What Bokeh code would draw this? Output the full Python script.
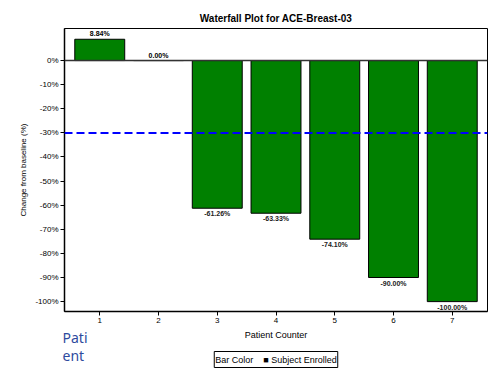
from bokeh.plotting import figure
from bokeh.models import (ColumnDataSource, Range1d, Span, Title,
                          FixedTicker, CustomJSTickFormatter)
from bokeh.embed import file_html
from bokeh.resources import INLINE
from bokeh.core.properties import value

# ---- data ----
patients = [1, 2, 3, 4, 5, 6, 7]
change = [8.84, 0.00, -61.26, -63.33, -74.10, -90.00, -100.00]
value_labels = ["8.84%", "0.00%", "-61.26%", "-63.33%", "-74.10%", "-90.00%", "-100.00%"]
y_ticks = [0, -10, -20, -30, -40, -50, -60, -70, -80, -90, -100]
threshold = -30
title_text = "Waterfall Plot for ACE-Breast-03"
legend_title = "Bar Color"
legend_label = "Subject Enrolled"
stray_text = "Pati\nent"

FONT = "Liberation Sans"

p = figure(width=502, height=374, output_backend="svg", toolbar_location=None,
           x_range=Range1d(0.4, 7.6), y_range=Range1d(-104.1, 13.3),
           min_border_left=64, min_border_right=15, min_border_top=28, min_border_bottom=63)
p.xgrid.visible = False
p.ygrid.visible = False
p.outline_line_color = "black"
p.outline_line_width = 1
p.background_fill_color = "white"
p.border_fill_color = "white"

# title
p.title.text = title_text
p.title.align = "center"
p.title.text_font = FONT
p.title.text_font_size = "10px"
p.title.text_font_style = "bold"
p.title.text_color = "black"
p.title.standoff = 9

src = ColumnDataSource(dict(x=patients, top=change, lab=value_labels))

# zero line
p.add_layout(Span(location=0, dimension="width", line_color="#333333", line_width=1.5))

r = p.vbar(x="x", top="top", bottom=0, width=0.85, source=src,
           fill_color="#008000", line_color="black", line_width=1)

# threshold line
p.add_layout(Span(location=threshold, dimension="width", line_color="#0000ff",
                  line_width=2, line_dash="8 4"))

# value labels
pos = ColumnDataSource(dict(x=[x for x, c in zip(patients, change) if c >= 0],
                            y=[c for c in change if c >= 0],
                            lab=[l for l, c in zip(value_labels, change) if c >= 0]))
neg = ColumnDataSource(dict(x=[x for x, c in zip(patients, change) if c < 0],
                            y=[c for c in change if c < 0],
                            lab=[l for l, c in zip(value_labels, change) if c < 0]))
p.text(x="x", y="y", text="lab", source=pos, text_align="center", text_baseline="bottom",
       y_offset=-2, text_font=value(FONT), text_font_size="7px", text_font_style="bold",
       text_color="black")
p.text(x="x", y="y", text="lab", source=neg, text_align="center", text_baseline="top",
       y_offset=2, text_font=value(FONT), text_font_size="7px", text_font_style="bold",
       text_color="#222222")

# axes
p.yaxis.ticker = FixedTicker(ticks=y_ticks)
p.yaxis.formatter = CustomJSTickFormatter(code="return tick + '%';")
p.xaxis.ticker = FixedTicker(ticks=patients)
for ax in (p.xaxis[0], p.yaxis[0]):
    ax.axis_line_color = "black"
    ax.axis_line_width = 1.5
    ax.major_tick_line_color = "black"
    ax.major_tick_out = 4
    ax.major_tick_in = 0
    ax.minor_tick_out = 0
    ax.minor_tick_in = 0
    ax.major_label_text_font = FONT
    ax.major_label_text_font_size = "8px"
    ax.major_label_text_color = "black"
    ax.axis_label_text_font = FONT
    ax.axis_label_text_font_style = "normal"
    ax.axis_label_text_color = "black"
p.yaxis.major_label_standoff = 2
p.xaxis.major_label_standoff = 2
p.xaxis.axis_label = "Patient Counter"
p.xaxis.axis_label_text_font_size = "9px"
p.xaxis.axis_label_standoff = 4
p.yaxis.axis_label = "Change from baseline (%)"
p.yaxis.axis_label_text_font_size = "8px"
p.yaxis.axis_label_standoff = 4

# stray wrapped text at the lower left, pulled up beside the tick labels
stray = Title(text=stray_text, align="left", vertical_align="top", offset=-2, standoff=-30,
              text_font="Noto Sans", text_font_size="14px", text_font_style="normal",
              text_color="#2e4a9e", text_line_height=0.95)
p.add_layout(stray, "below")

# legend box below the axis (drawn as a boxed text line)
legend_text = legend_title + "\u00a0\u00a0\u00a0\u00a0\u25A0\u00a0" + legend_label
try:
    key = Title(text=legend_text, align="center", vertical_align="top", standoff=0,
                text_font=FONT, text_font_size="9px", text_font_style="normal",
                text_color="black", border_line_color="black", border_line_width=1,
                background_fill_color="white", padding=(1, 3))
except Exception:
    key = Title(text=legend_text, align="center", vertical_align="top", standoff=0,
                text_font=FONT, text_font_size="9px", text_font_style="normal",
                text_color="black", border_line_color="black", border_line_width=1,
                background_fill_color="white")
p.add_layout(key, "below")

open("out.html", "w").write(file_html(p, INLINE))
